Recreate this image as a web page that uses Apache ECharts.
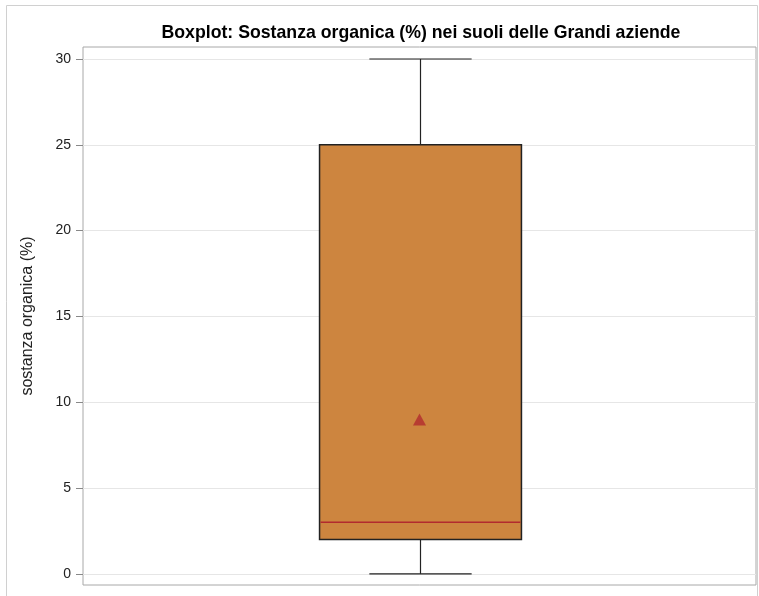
<!DOCTYPE html>
<html>
<head>
<meta charset="utf-8">
<script src="https://cdn.jsdelivr.net/npm/echarts@6/dist/echarts.min.js"></script>
<style>html,body{margin:0;padding:0;background:#fff}#chart{width:759px;height:596px}</style>
</head>
<body>
<div id="chart"></div>
<script>
const categories = ['Grandi aziende'];
const minVals = [0];
const q1Vals = [2];
const medianVals = [3];
const q3Vals = [25];
const maxVals = [30];
const meanVals = [9.0];
const tickLabels = [0, 5, 10, 15, 20, 25, 30];

const boxData = categories.map((c, i) => [i, minVals[i], q1Vals[i], medianVals[i], q3Vals[i], maxVals[i]]);
const meanData = categories.map((c, i) => [i, meanVals[i]]);

const chart = echarts.init(document.getElementById('chart'));
chart.setOption({
  animation: false,
  backgroundColor: '#fff',
  title: {
    text: 'Boxplot: Sostanza organica (%) nei suoli delle Grandi aziende',
    left: 416, top: 19, textAlign: 'center',
    textStyle: { fontFamily: 'Liberation Sans, Arial', fontSize: 17.7, fontWeight: 'bold', color: '#000' }
  },
  graphic: [{
    type: 'rect', shape: { x: 6.5, y: 5.5, width: 751, height: 600 },
    style: { fill: 'none', stroke: '#d0d0d0', lineWidth: 1 }, z: -10
  }],
  grid: { left: 83, top: 47, right: 3, bottom: 11, show: true, borderColor: '#a8a8a8', borderWidth: 1, backgroundColor: 'transparent' },
  xAxis: {
    type: 'category', data: categories,
    axisLine: { show: false }, axisTick: { show: false }, axisLabel: { show: false }, splitLine: { show: false }
  },
  yAxis: {
    type: 'value', min: -0.65, max: 30.7,
    name: 'sostanza organica (%)', nameLocation: 'middle', nameGap: 47, nameRotate: 90,
    nameTextStyle: { fontFamily: 'Liberation Sans, Arial', fontSize: 16, color: '#222' },
    axisLine: { show: false },
    axisTick: { show: true, length: 7, customValues: tickLabels, lineStyle: { color: '#888' } },
    axisLabel: { customValues: tickLabels, margin: 12, fontFamily: 'Liberation Sans, Arial', fontSize: 14, color: '#222' },
    splitLine: { show: true, lineStyle: { color: '#e6e6e6', width: 1 } }
  },
  series: [{
    type: 'custom',
    data: boxData,
    encode: { x: 0, y: [1, 2, 3, 4, 5] },
    renderItem: function (params, api) {
      const x = api.value(0);
      const band = api.size([1, 0])[0];
      const bw = band * 0.3;
      const cw = band * 0.152;
      const pMin = api.coord([x, api.value(1)]);
      const pQ1 = api.coord([x, api.value(2)]);
      const pMed = api.coord([x, api.value(3)]);
      const pQ3 = api.coord([x, api.value(4)]);
      const pMax = api.coord([x, api.value(5)]);
      const cx = Math.round(pMin[0]) + 0.5;
      const line = { stroke: '#222', lineWidth: 1.2 };
      return {
        type: 'group',
        children: [
          { type: 'line', shape: { x1: cx, y1: pQ3[1], x2: cx, y2: pMax[1] }, style: line },
          { type: 'line', shape: { x1: cx, y1: pQ1[1], x2: cx, y2: pMin[1] }, style: line },
          { type: 'line', shape: { x1: cx - cw / 2, y1: pMax[1], x2: cx + cw / 2, y2: pMax[1] }, style: line },
          { type: 'line', shape: { x1: cx - cw / 2, y1: pMin[1], x2: cx + cw / 2, y2: pMin[1] }, style: line },
          { type: 'rect', shape: { x: cx - bw / 2, y: pQ3[1], width: bw, height: pQ1[1] - pQ3[1] },
            style: { fill: '#CD853F', stroke: '#222', lineWidth: 1.5 } },
          { type: 'line', shape: { x1: cx - bw / 2 + 1, y1: pMed[1], x2: cx + bw / 2 - 1, y2: pMed[1] },
            style: { stroke: '#B22A2E', lineWidth: 1.5 } }
        ]
      };
    },
    z: 2
  }, {
    type: 'scatter',
    data: meanData,
    symbol: 'triangle',
    symbolSize: [13, 12],
    itemStyle: { color: '#B22A2E' },
    z: 3
  }]
});
</script>
</body>
</html>
